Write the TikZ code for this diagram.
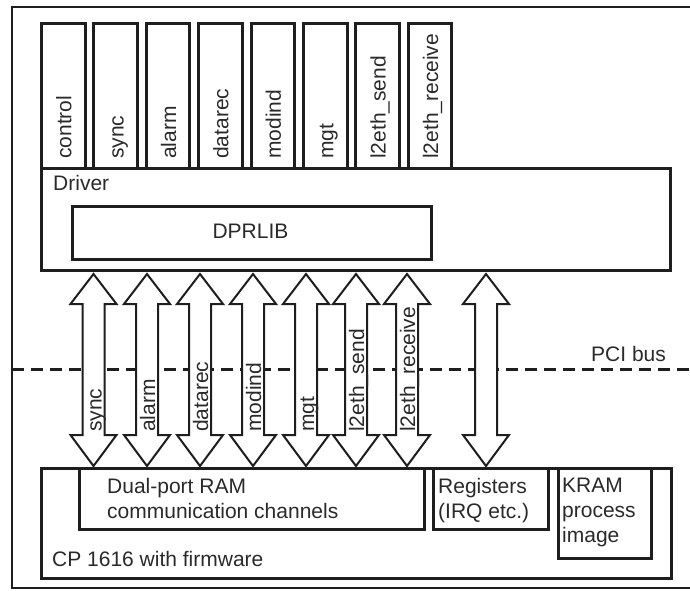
\documentclass[tikz,border=0pt]{standalone}
\usepackage{fontspec}
\setmainfont{Liberation Sans}
\usetikzlibrary{calc}
\definecolor{ink}{HTML}{1E1E1E}
\definecolor{txtc}{HTML}{2A2A2A}
\begin{document}
\begin{tikzpicture}[x=1pt,y=-1pt,
  box/.style={draw=ink, line width=3pt, inner sep=0pt, anchor=north west},
  txt/.style={inner sep=0pt, text=txtc, font=\fontsize{21}{25}\selectfont},
  vtxt/.style={txt, rotate=90, anchor=base west},
  dbl/.style={draw=ink, line width=2pt, fill=white, line join=miter},
  frame/.style={draw=ink, line width=2pt},
  bus/.style={draw=ink, line width=3pt, dash pattern=on 12pt off 7pt}]
\useasboundingbox (0,0) rectangle (690,591);

% outer frame (right edge lies outside the picture)
\draw[frame] (12,7) rectangle (700,588);

% PCI bus line
\coordinate (busL) at (12,369);
\coordinate (busR) at (690,369);
\draw[bus] (busL) -- (busR);
\node[txt, anchor=base west] (pci) at (591,361) {PCI bus};

% Driver and DPRLIB
\node[box, minimum width=629pt, minimum height=102pt] (driver) at (40,167) {};
\node[txt, anchor=base west] (driverlbl) at (53,190) {Driver};
\node[box, minimum width=359pt, minimum height=53pt] (dprlib) at (71,205) {};
\node[txt, anchor=base] (dprliblbl) at (250.5,238.5) {DPRLIB};

% top channel boxes
\foreach \lbl [count=\i from 0] in {control,sync,alarm,datarec,modind,mgt,l2eth\_send,l2eth\_receive} {
  \pgfmathsetmacro\xl{40+52.4*\i}
  \node[box, minimum width=43.5pt, minimum height=145pt] (top\i) at (\xl,22) {};
  \node[vtxt] (toplbl\i) at ($(top\i.south)+(8,-11)$) {\lbl};
}

% CP 1616 and inner boxes
\node[box, minimum width=630pt, minimum height=110pt] (cp) at (40,467) {};
\node[txt, anchor=base west] (cplbl) at (52,566) {CP 1616 with firmware};
\node[box, minimum width=345pt, minimum height=61pt] (dpram) at (78,467) {};
\node[txt, anchor=north west, align=left] (dpramlbl) at (107,477.7) {Dual-port RAM\\communication channels};
\node[box, minimum width=115pt, minimum height=61pt] (regs) at (432,467) {};
\node[txt, anchor=north west, align=left] (regslbl) at (438,478) {Registers\\(IRQ etc.)};
\node[box, minimum width=93pt, minimum height=90pt] (kram) at (557,467) {};
\node[txt, anchor=north west, align=left] (kramlbl) at (562,478) {KRAM\\process\\image};

% double arrows between driver and CP
\foreach \c/\lbl [count=\i] in {93.5/sync,147/alarm,200/datarec,253/modind,306/mgt,356/l2eth\_send,407/l2eth\_receive} {
  \coordinate (up\i) at (driver.south -| \c,0);
  \coordinate (dn\i) at (cp.north -| \c,0);
  \draw[dbl] ($(up\i)+(0,2)$) -- ++(23,30) -- ++(-12,0) -- ($(dn\i)+(11,-32)$) -- ++(12,0)
     -- ($(dn\i)+(0,-1)$) -- ++(-23,-31) -- ++(12,0) -- ($(up\i)+(-11,32)$) -- ++(-12,0) -- cycle;
  \node[vtxt] (arrlbl\i) at ($(dn\i)+(8,-35)$) {\lbl};
}
\coordinate (up8) at (driver.south -| 486,0);
\coordinate (dn8) at (cp.north -| 486,0);
\draw[dbl] ($(up8)+(0,2)$) -- ++(23,30) -- ++(-12,0) -- ($(dn8)+(11,-32)$) -- ++(12,0)
   -- ($(dn8)+(0,-1)$) -- ++(-23,-31) -- ++(12,0) -- ($(up8)+(-11,32)$) -- ++(-12,0) -- cycle;
\end{tikzpicture}
\end{document}
